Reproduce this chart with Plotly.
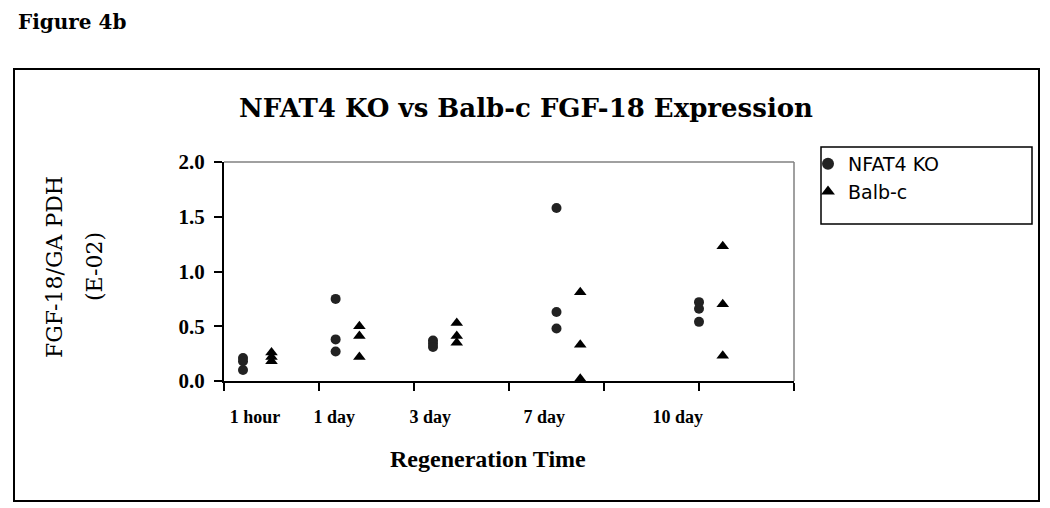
import plotly.graph_objects as go

# ---- data ----
categories = ["1 hour", "1 day", "3 day", "7 day", "10 day"]
ko_x = [0.4, 2.35, 4.4, 7.0, 10.0]
balb_x = [1.0, 2.85, 4.9, 7.5, 10.5]
ko_values = [
    [0.21, 0.18, 0.10],
    [0.75, 0.38, 0.27],
    [0.37, 0.34, 0.31],
    [1.58, 0.63, 0.48],
    [0.72, 0.66, 0.54],
]
balb_values = [
    [0.26, 0.22, 0.18],
    [0.50, 0.41, 0.22],
    [0.53, 0.41, 0.35],
    [0.81, 0.33, 0.02],
    [1.23, 0.70, 0.23],
]
y_ticks = [0.0, 0.5, 1.0, 1.5, 2.0]

# ---- layout constants (screen pixels; page body has an 8px margin) ----
OFF = 8
W, H = 1050 - OFF, 508 - OFF
L, R, T, B = 224, 794, 162, 381
label_pos = [0.65, 2.32, 4.34, 6.74, 9.55]


def px_x(p):
    return (p - L) / (R - L)


def px_y(p):
    return (B - p) / (B - T)


def flat(xs, vals):
    X, Y = [], []
    for x, vs in zip(xs, vals):
        for v in vs:
            X.append(x)
            Y.append(v)
    return X, Y


kx, ky = flat(ko_x, ko_values)
bx, by = flat(balb_x, balb_values)

fig = go.Figure()
fig.add_trace(go.Scatter(x=kx, y=ky, mode="markers", name="NFAT4 KO",
                         marker=dict(symbol="circle", size=10, color="#222222")))
fig.add_trace(go.Scatter(x=bx, y=by, mode="markers", name="Balb-c",
                         marker=dict(symbol="triangle-up", size=11, color="#000000")))

serif = "Liberation Serif"
wide_serif = "DejaVu Serif"
fig.update_layout(
    width=W, height=H,
    margin=dict(l=L - OFF, r=(W + OFF) - R, t=T - OFF, b=(H + OFF) - B, pad=0),
    paper_bgcolor="white", plot_bgcolor="white",
    showlegend=True,
    legend=dict(x=px_x(808), y=px_y(145), xanchor="left", yanchor="top",
                font=dict(family="DejaVu Sans", size=19, color="black"),
                bgcolor="rgba(0,0,0,0)", borderwidth=0, tracegroupgap=0,
                itemsizing="constant"),
    xaxis=dict(range=[0, 12], showgrid=False, zeroline=False,
               showline=True, linecolor="black", linewidth=2,
               tickmode="array", tickvals=label_pos, ticktext=categories,
               ticks="outside", ticklen=18, tickcolor="rgba(0,0,0,0)",
               tickfont=dict(family=serif, size=18, color="black", weight="bold"),
               minor=dict(ticks="outside", tickmode="linear", tick0=0, dtick=2,
                          ticklen=8, tickcolor="black", tickwidth=1.5, showgrid=False)),
    yaxis=dict(range=[0, 2.0], showgrid=False, zeroline=False,
               showline=True, linecolor="black", linewidth=2,
               tickmode="array", tickvals=y_ticks,
               ticktext=[f"{v:.1f}" for v in y_ticks],
               ticks="outside", ticklen=8, tickwidth=1.5, tickcolor="black",
               ticklabelstandoff=5,
               tickfont=dict(family=serif, size=21, color="black", weight="bold")),
)

shapes = []
# outer frame
shapes.append(dict(type="rect", xref="paper", yref="paper",
                   x0=px_x(14), x1=px_x(1039), y0=px_y(501), y1=px_y(69),
                   line=dict(color="black", width=2), layer="below"))
# plot area top/right border (gray)
shapes.append(dict(type="line", xref="paper", yref="paper",
                   x0=0, x1=1, y0=1, y1=1, line=dict(color="#808080", width=1.5)))
shapes.append(dict(type="line", xref="paper", yref="paper",
                   x0=1, x1=1, y0=0, y1=1, line=dict(color="#808080", width=1.5)))
# legend box
shapes.append(dict(type="rect", xref="paper", yref="paper",
                   x0=px_x(821), x1=px_x(1032), y0=px_y(224), y1=px_y(147),
                   line=dict(color="black", width=1.5)))
fig.update_layout(shapes=shapes)

annotations = [
    dict(text="<b>Figure 4b</b>", x=px_x(17), y=px_y(9), xanchor="left", yanchor="top",
         borderpad=0, font=dict(family=wide_serif, size=20, color="black")),
    dict(text="<b>NFAT4 KO vs Balb-c FGF-18 Expression</b>", x=px_x(526), y=px_y(108),
         xanchor="center", yanchor="middle",
         font=dict(family=wide_serif, size=26, color="black")),
    dict(text="FGF-18/GA PDH", x=px_x(54), y=px_y(267), xanchor="center", yanchor="middle",
         textangle=-90, font=dict(family=wide_serif, size=22, color="black")),
    dict(text="(E-02)", x=px_x(94), y=px_y(267), xanchor="center", yanchor="middle",
         textangle=-90, font=dict(family=wide_serif, size=22, color="black")),
    dict(text="<b>Regeneration Time</b>", x=px_x(488), y=px_y(459), xanchor="center",
         yanchor="middle", font=dict(family=serif, size=24, color="black")),
]
for a in annotations:
    a.update(xref="paper", yref="paper", showarrow=False)
fig.update_layout(annotations=annotations)

fig.write_html("out.html")
